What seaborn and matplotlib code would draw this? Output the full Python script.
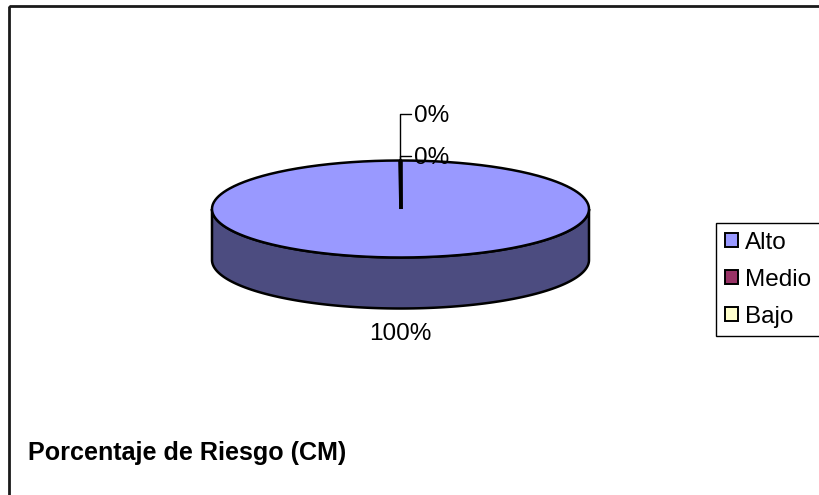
import numpy as np
import matplotlib
matplotlib.use("Agg")
import matplotlib.pyplot as plt
from matplotlib.patches import Polygon, Rectangle, Patch
import seaborn as sns

# Risk distribution
categories = ["Alto", "Medio", "Bajo"]
values = [100, 0, 0]
chart_title = "Porcentaje de Riesgo (CM)"

top_colors = ["#9999FF", "#993366", "#FFFFCC"]
side_colors = ["#4C4C80", "#4D1A33", "#808066"]

sns.set_style("white")
plt.rcParams["font.family"] = ["Liberation Sans", "DejaVu Sans"]
plt.rcParams["text.color"] = "black"

W, H = 819, 495
fig = plt.figure(figsize=(W / 100, H / 100), dpi=100)
ax = fig.add_axes([0, 0, 1, 1])
ax.set_xlim(0, W)
ax.set_ylim(H, 0)
ax.axis("off")

# outer chart-area border
ax.add_patch(Rectangle((9, 6), 900, 600, fill=False, edgecolor="#1a1a1a", lw=2))

# 3-D pie geometry (pixel space)
cx, cy, a, b, depth = 400.5, 209, 188.5, 48.5, 51


def rim(theta):
    """Point on the top ellipse; theta clockwise from 12 o'clock."""
    return cx + a * np.sin(theta), cy - b * np.cos(theta)


total = float(sum(values))
fracs = np.array(values) / total
starts = np.concatenate([[0], np.cumsum(fracs)[:-1]]) * 2 * np.pi
ends = starts + fracs * 2 * np.pi

# side walls: visible front half runs from 3 o'clock to 9 o'clock
for s, e, col in zip(starts, ends, side_colors):
    t0, t1 = max(s, np.pi / 2), min(e, 3 * np.pi / 2)
    if t1 <= t0:
        continue
    t = np.linspace(t0, t1, 200)
    xs, ys = rim(t)
    poly = np.column_stack([np.r_[xs, xs[::-1]], np.r_[ys, ys[::-1] + depth]])
    ax.add_patch(Polygon(poly, closed=True, facecolor=col, edgecolor="black", lw=1.8))

# top faces
for s, e, col in zip(starts, ends, top_colors):
    if e - s <= 0:
        continue
    t = np.linspace(s, e, 400)
    xs, ys = rim(t)
    poly = np.column_stack([np.r_[cx, xs], np.r_[cy, ys]])
    ax.add_patch(Polygon(poly, closed=True, facecolor=col, edgecolor="none"))

t = np.linspace(0, 2 * np.pi, 600)
xs, ys = rim(t)
ax.plot(xs, ys, color="black", lw=1.8)

# slice boundaries
for s in np.unique(np.round(starts, 9)):
    x1, y1 = rim(s)
    ax.plot([cx, x1], [cy, y1], color="black", lw=2.6, solid_capstyle="butt")

# data labels
label_fs = 17.5
zero_rows = [114, 156]
zi = 0
for v, s, e in zip(values, starts, ends):
    pct = f"{v / total * 100:.0f}%"
    mid = (s + e) / 2
    mx, my = rim(mid)
    if v > 0:
        ax.text(mx, my + depth + 25, pct, ha="center", va="center", fontsize=label_fs)
    else:
        ly = zero_rows[zi]
        ax.plot([mx, mx, mx + 11], [my, ly, ly], color="black", lw=1)
        ax.text(mx + 14, ly + 2, pct, ha="left", va="center", fontsize=label_fs)
        zi += 1

# legend
handles = [Patch(facecolor=c, edgecolor="black", lw=1.4) for c in top_colors]
leg = fig.legend(
    handles, categories,
    loc="upper left",
    bbox_to_anchor=(716 / W, 1 - 332 / H, 130 / W, 109 / H),
    mode="expand",
    fontsize=label_fs,
    frameon=True, fancybox=False, framealpha=1,
    handlelength=0.55, handleheight=0.55, handletextpad=0.3,
    labelspacing=0.62, borderpad=0.35, borderaxespad=0,
)
leg.get_frame().set_edgecolor("black")
leg.get_frame().set_linewidth(1)

ax.text(28, 453, chart_title, ha="left", va="center", fontsize=18.1, fontweight="bold")

fig.savefig("out.png", dpi=100)
